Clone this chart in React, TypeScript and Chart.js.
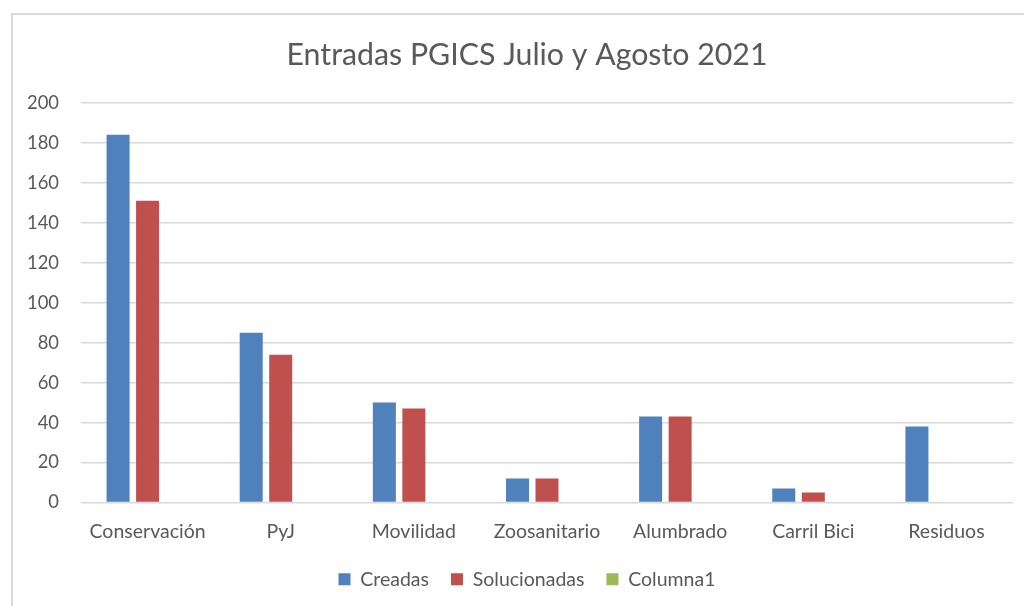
import React, { useEffect, useRef } from "react";
import { Chart, registerables } from "chart.js";

Chart.register(...registerables);

const categories = ["Conservación", "PyJ", "Movilidad", "Zoosanitario", "Alumbrado", "Carril Bici", "Residuos"];
const creadas = [184, 85, 50, 12, 43, 7, 38];
const solucionadas = [151, 74, 47, 12, 43, 5, null];
const columna1 = [null, null, null, null, null, null, null];
const yTicks = { min: 0, max: 200, step: 20 };
const titleText = "Entradas PGICS Julio y Agosto 2021";

const TEXT = "#595959";
const GRID = "#d9d9d9";
const FONT = "Lato";

const borderPlugin = {
  id: "frameBorder",
  beforeDraw(chart: any) {
    const ctx = chart.ctx;
    ctx.save();
    ctx.fillStyle = "#ffffff";
    ctx.fillRect(0, 0, chart.width, chart.height);
    ctx.strokeStyle = GRID;
    ctx.lineWidth = 2;
    ctx.beginPath();
    ctx.moveTo(12, chart.height + 10);
    ctx.lineTo(12, 14);
    ctx.lineTo(chart.width + 10, 14);
    ctx.stroke();
    ctx.restore();
  },
};

export default function App() {
  const ref = useRef<HTMLCanvasElement | null>(null);
  useEffect(() => {
    let chart: any = null;
    let cancelled = false;
    const make = () => {
      if (cancelled || !ref.current) return;
      chart = new Chart(ref.current, {
        type: "bar",
        data: {
          labels: categories,
          datasets: [
            { label: "Creadas", data: creadas, backgroundColor: "#4F81BD", categoryPercentage: 0.665, barPercentage: 0.78 },
            { label: "Solucionadas", data: solucionadas, backgroundColor: "#C0504D", categoryPercentage: 0.665, barPercentage: 0.78 },
            { label: "Columna1", data: columna1, backgroundColor: "#9BBB59", categoryPercentage: 0.665, barPercentage: 0.78 },
          ],
        },
        plugins: [borderPlugin],
        options: {
          responsive: false,
          animation: false,
          events: [],
          layout: { padding: { left: 11, right: 0, top: 0, bottom: 21 } },
          plugins: {
            tooltip: { enabled: false },
            title: {
              display: true,
              text: titleText,
              color: TEXT,
              font: { family: FONT, size: 30.3, weight: "normal" },
              padding: { top: 37, bottom: 29.5 },
            },
            legend: {
              position: "bottom",
              labels: {
                color: TEXT,
                font: { family: FONT, size: 19.5 },
                boxWidth: 12,
                boxHeight: 12,
                padding: 22,
              },
            },
          },
          scales: {
            x: {
              grid: { display: false },
              border: { display: false },
              ticks: { color: TEXT, font: { family: FONT, size: 19.5 }, padding: 10, maxRotation: 0, autoSkip: false },
              afterFit: (s: any) => { s.height = 45; },
            },
            y: {
              min: yTicks.min,
              max: yTicks.max,
              grid: { color: GRID, lineWidth: 1.5, drawTicks: false },
              border: { display: false },
              ticks: { stepSize: yTicks.step, color: TEXT, font: { family: FONT, size: 18.4 }, padding: 22 },
              afterFit: (s: any) => { s.width = 70; },
            },
            yRight: {
              position: "right",
              display: true,
              grid: { display: false, drawTicks: false },
              border: { display: false },
              ticks: { display: false },
              afterFit: (s: any) => { s.width = 30; },
            },
          },
        },
      } as any);
    };
    const fonts: any = (document as any).fonts;
    if (fonts && fonts.load) {
      Promise.all([fonts.load("18px Lato"), fonts.load("30px Lato")]).then(make, make);
    } else make();
    return () => {
      cancelled = true;
      if (chart) chart.destroy();
    };
  }, []);
  return (
    <div style={{ position: "fixed", left: 0, top: 0, width: 1024, height: 606, overflow: "hidden", background: "#fff" }}>
      <canvas ref={ref} width={1043} height={620} style={{ width: 1043, height: 620, display: "block" }} />
    </div>
  );
}
